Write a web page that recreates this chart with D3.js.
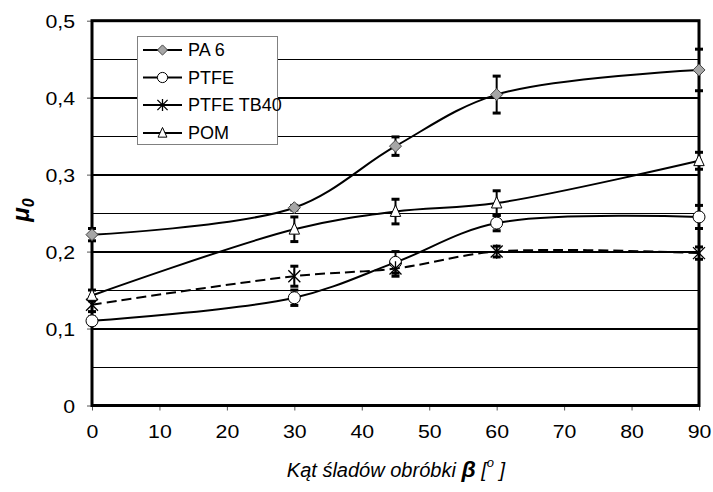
<!DOCTYPE html>
<html><head><meta charset="utf-8">
<script src="https://cdn.jsdelivr.net/npm/d3@7"></script>
<style>
html,body{margin:0;padding:0;background:#fff;}
text{font-family:"Liberation Sans",Arial,sans-serif;fill:#000;}
</style></head>
<body>
<svg id="chart" width="713" height="492"></svg>
<script>
// ---- data ----
const angles = [0, 30, 45, 60, 90];
const seriesNames = ["PA 6", "PTFE", "PTFE TB40", "POM"];
const pa6 = [0.222, 0.257, 0.337, 0.404, 0.436];
const pa6Err = [0.008, 0.003, 0.012, 0.024, 0.027];
const ptfe = [0.110, 0.140, 0.186, 0.237, 0.245];
const ptfeErr = [0.005, 0.010, 0.014, 0.010, 0.015];
const ptfeTb40 = [0.131, 0.168, 0.178, 0.200, 0.198];
const ptfeTb40Err = [0.009, 0.013, 0.010, 0.007, 0.008];
const pom = [0.143, 0.229, 0.252, 0.263, 0.318];
const pomErr = [0.007, 0.016, 0.016, 0.016, 0.011];
const xTicks = [0, 10, 20, 30, 40, 50, 60, 70, 80, 90];
const yTicks = [0, 0.1, 0.2, 0.3, 0.4, 0.5];
const yTickLabels = ["0", "0,1", "0,2", "0,3", "0,4", "0,5"];
const yMinor = [0.05, 0.15, 0.25, 0.35, 0.45];

const svg = d3.select("#chart");
const L = 92, R = 699, T = 20.7, B = 405.5;
const x = d3.scaleLinear().domain([0, 90]).range([L, R]);
const y = d3.scaleLinear().domain([0, 0.5]).range([B, T]);

function stretch(sel, k) {
  sel.each(function () {
    const n = this.getComputedTextLength();
    d3.select(this).attr("textLength", n * k).attr("lengthAdjust", "spacingAndGlyphs");
  });
}

// minor gridlines
svg.append("g").selectAll("line").data(yMinor).join("line")
  .attr("x1", L).attr("x2", R).attr("y1", d => Math.round(y(d)) + 0.5).attr("y2", d => Math.round(y(d)) + 0.5)
  .attr("stroke", "#000").attr("stroke-width", 1);
// major gridlines
svg.append("g").selectAll("line").data(yTicks.slice(1, 5)).join("line")
  .attr("x1", L).attr("x2", R).attr("y1", d => Math.round(y(d))).attr("y2", d => Math.round(y(d)))
  .attr("stroke", "#000").attr("stroke-width", 2);

// axes
const yAxis = d3.axisLeft(y).tickValues(yTicks).tickSize(5).tickPadding(12)
  .tickFormat((d, i) => yTickLabels[i]);
const gy = svg.append("g").attr("transform", `translate(${L},0)`).call(yAxis);
gy.select(".domain").remove();
gy.selectAll(".tick line").attr("stroke", "#555").attr("stroke-width", 1);
gy.selectAll("text").attr("font-size", 19).attr("font-family", "Liberation Sans, Arial, sans-serif")
  .attr("fill", "#000").attr("dy", "0.36em");
stretch(gy.selectAll("text"), 1.12);

const xAxis = d3.axisBottom(x).tickValues(xTicks).tickSize(5).tickPadding(14);
const gx = svg.append("g").attr("transform", `translate(0,${B})`).call(xAxis);
gx.select(".domain").remove();
gx.selectAll(".tick line").attr("stroke", "#555").attr("stroke-width", 1);
gx.selectAll("text").attr("font-size", 19).attr("font-family", "Liberation Sans, Arial, sans-serif").attr("fill", "#000");
stretch(gx.selectAll("text"), 1.12);

// plot frame
svg.append("rect").attr("x", L).attr("y", T).attr("width", R - L).attr("height", B - T)
  .attr("fill", "none").attr("stroke", "#000").attr("stroke-width", 3);

// series definitions
const series = [
  {name: seriesNames[0], v: pa6, e: pa6Err, marker: "diamond", dash: null},
  {name: seriesNames[1], v: ptfe, e: ptfeErr, marker: "circle", dash: null},
  {name: seriesNames[2], v: ptfeTb40, e: ptfeTb40Err, marker: "asterisk", dash: "10,5"},
  {name: seriesNames[3], v: pom, e: pomErr, marker: "triangle", dash: null}
];

function drawMarker(g, type, cx, cy, s) {
  s = s || 1;
  if (type === "diamond") {
    const r = 6 * s;
    g.append("path").attr("d", `M${cx},${cy - r}L${cx + r},${cy}L${cx},${cy + r}L${cx - r},${cy}Z`)
      .attr("fill", "#a6a6a6").attr("stroke", "#444").attr("stroke-width", 1);
  } else if (type === "circle") {
    g.append("circle").attr("cx", cx).attr("cy", cy).attr("r", 6 * s)
      .attr("fill", "#fff").attr("stroke", "#000").attr("stroke-width", 1);
  } else if (type === "triangle") {
    const r = 6.5 * s;
    g.append("path").attr("d", `M${cx},${cy - r}L${cx + r * 0.8},${cy + r * 0.75}L${cx - r * 0.8},${cy + r * 0.75}Z`)
      .attr("fill", "#fff").attr("stroke", "#000").attr("stroke-width", 1);
  } else if (type === "asterisk") {
    const r = 6 * s;
    g.append("path").attr("d", `M${cx - r},${cy - r}L${cx + r},${cy + r}M${cx - r},${cy + r}L${cx + r},${cy - r}M${cx},${cy - r * 1.2}L${cx},${cy + r * 1.2}`)
      .attr("fill", "none").attr("stroke", "#000").attr("stroke-width", 1.3);
  }
}

const line = d3.line().x((d, i) => x(angles[i])).y(d => y(d)).curve(d3.curveCatmullRom.alpha(0.5));

// error bars
series.forEach(s => {
  const g = svg.append("g");
  s.v.forEach((v, i) => {
    const cx = x(angles[i]);
    const y1 = y(v + s.e[i]), y2 = y(v - s.e[i]);
    g.append("line").attr("x1", cx).attr("x2", cx).attr("y1", y1).attr("y2", y2)
      .attr("stroke", "#000").attr("stroke-width", 2);
    [y1, y2].forEach(yy => g.append("line").attr("x1", cx - 4).attr("x2", cx + 4)
      .attr("y1", yy).attr("y2", yy).attr("stroke", "#000").attr("stroke-width", 3));
  });
});

// lines
series.forEach(s => {
  svg.append("path").datum(s.v).attr("d", line).attr("fill", "none")
    .attr("stroke", "#000").attr("stroke-width", 2)
    .attr("stroke-dasharray", s.dash);
});
// markers
series.forEach(s => {
  const g = svg.append("g");
  s.v.forEach((v, i) => drawMarker(g, s.marker, x(angles[i]), y(v)));
});

// legend
const lg = svg.append("g");
lg.append("rect").attr("x", 137.5).attr("y", 36.5).attr("width", 140).attr("height", 108)
  .attr("fill", "#fff").attr("stroke", "#808080").attr("stroke-width", 1);
const rowsY = [50, 77.5, 105, 133];
series.forEach((s, i) => {
  const yy = rowsY[i];
  lg.append("line").attr("x1", 143).attr("x2", 182).attr("y1", yy).attr("y2", yy)
    .attr("stroke", "#000").attr("stroke-width", 2);
  drawMarker(lg, s.marker, 162.5, yy, 0.85);
  lg.append("text").attr("x", 188).attr("y", yy).attr("dy", "0.36em")
    .attr("font-size", 18).text(s.name);
});

// y-axis title
const yt = svg.append("text").attr("transform", "translate(29,210) rotate(-90)")
  .attr("text-anchor", "middle").attr("font-size", 24).attr("font-weight", "bold").attr("font-style", "italic");
yt.append("tspan").text("μ");
yt.append("tspan").attr("font-size", 16).attr("dy", 5).text("0");

// x-axis title
const xt = svg.append("text").attr("x", 396).attr("y", 477).attr("text-anchor", "middle")
  .attr("font-size", 20).attr("font-style", "italic");
xt.append("tspan").text("Kąt śladów obróbki ");
xt.append("tspan").attr("font-weight", "bold").attr("font-size", 23).text("β");
xt.append("tspan").text(" [");
xt.append("tspan").attr("font-size", 13).attr("dy", -10).text("o");
xt.append("tspan").attr("dy", 10).text(" ]");
</script>
</body></html>
